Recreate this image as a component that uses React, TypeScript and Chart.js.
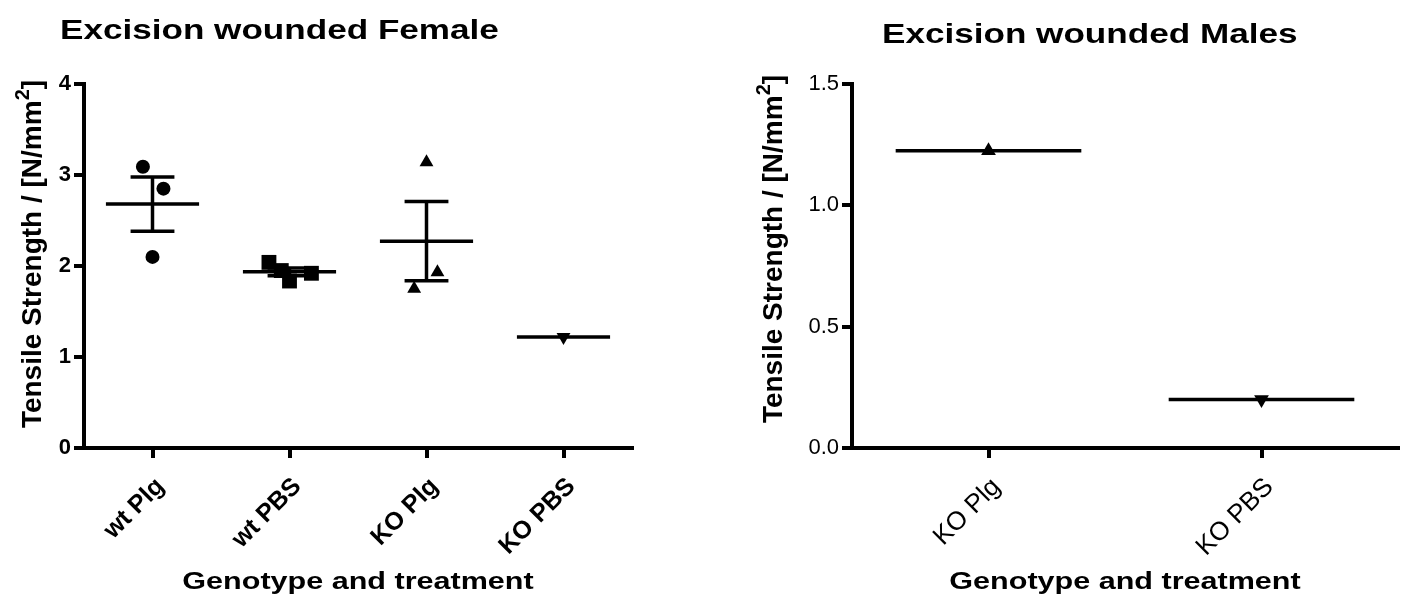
import React, { useEffect, useRef } from "react";
import { Chart, registerables } from "chart.js";

Chart.register(...registerables);

// ---------------- data ----------------
const femaleTitle = "Excision wounded Female";
const maleTitle = "Excision wounded Males";
const xAxisTitle = "Genotype and treatment";
const yAxisTitleMain = "Tensile Strength / [N/mm";
const yAxisTitleSup = "2";
const yAxisTitleEnd = "]";

const femaleCategories = ["wt Plg", "wt PBS", "KO Plg", "KO PBS"];
const femaleWtPlg = [3.09, 2.85, 2.1];
const femaleWtPbs = [2.04, 1.95, 1.835, 1.92];
const femaleKoPlg = [3.14, 1.93, 1.75];
const femaleKoPbs = [1.22];
// horizontal scatter of the individual points, in category units
const femaleWtPlgJitter = [-0.07, 0.08, 0.0];
const femaleWtPbsJitter = [-0.15, -0.06, 0.0, 0.16];
const femaleKoPlgJitter = [0.0, 0.08, -0.09];
const femaleKoPbsJitter = [0.0];
const femaleYTicks = [0, 1, 2, 3, 4];

const maleCategories = ["KO Plg", "KO PBS"];
const maleKoPlg = [1.225];
const maleKoPbs = [0.2];
const maleKoPlgJitter = [0.0];
const maleKoPbsJitter = [0.0];
const maleYTicks = [0, 0.5, 1.0, 1.5];

// ---------------- helpers ----------------
const FONT = "'Liberation Sans', Arial, Helvetica, sans-serif";
const W = 1407;
const H = 599;

function mean(v: number[]) {
  return v.reduce((a, b) => a + b, 0) / v.length;
}
function sem(v: number[]) {
  if (v.length < 2) return 0;
  const m = mean(v);
  const sd = Math.sqrt(v.reduce((a, b) => a + (b - m) * (b - m), 0) / (v.length - 1));
  return sd / Math.sqrt(v.length);
}

type Group = { values: number[]; jitter: number[]; style: string; rotation: number; radius: number };

function segment(x1: number, y1: number, x2: number, y2: number) {
  return {
    type: "scatter" as const,
    data: [
      { x: x1, y: y1 },
      { x: x2, y: y2 },
    ],
    showLine: true,
    borderColor: "#000",
    borderWidth: 3.5,
    pointRadius: 0,
    pointHoverRadius: 0,
    borderCapStyle: "butt" as const,
    clip: false as const,
  };
}

function buildDatasets(groups: Group[], halfMean: number, halfCap: number) {
  const ds: any[] = [];
  groups.forEach((g, i) => {
    const c = i + 1;
    const m = mean(g.values);
    ds.push(segment(c - halfMean, m, c + halfMean, m));
    if (g.values.length > 1) {
      const s = sem(g.values);
      ds.push(segment(c, m - s, c, m + s));
      ds.push(segment(c - halfCap, m + s, c + halfCap, m + s));
      ds.push(segment(c - halfCap, m - s, c + halfCap, m - s));
    }
    ds.push({
      type: "scatter",
      data: g.values.map((v, k) => ({ x: c + g.jitter[k], y: v })),
      pointStyle: g.style,
      rotation: g.rotation,
      pointRadius: g.radius,
      pointHoverRadius: g.radius,
      backgroundColor: "#000",
      borderColor: "#000",
      borderWidth: 0,
      clip: false,
    });
  });
  return ds;
}

type PanelCfg = {
  area: { left: number; right: number; top: number; bottom: number };
  categories: string[];
  groups: Group[];
  yTicks: number[];
  yDecimals: number;
  tickWeight: string;
  yTickSize: number;
  xTickSize: number;
  title: string;
  titleX: number;
  titleBaseline: number;
  titleSize: number;
  xTitleSize: number;
  xTitleBaseline: number;
  yTitleX: number;
  yTitleY: number;
  yTitleSize: number;
};

const TEXT_STRETCH = 1.3;

function textPlugin(cfg: PanelCfg) {
  return {
    id: "panelText",
    afterDraw(chart: any) {
      const ctx = chart.ctx as CanvasRenderingContext2D;
      ctx.save();
      ctx.fillStyle = "#000";
      ctx.textBaseline = "alphabetic";
      // panel title
      ctx.save();
      ctx.font = `bold ${cfg.titleSize}px ${FONT}`;
      ctx.textAlign = "left";
      ctx.translate(cfg.titleX, cfg.titleBaseline);
      ctx.scale(TEXT_STRETCH, 1);
      ctx.fillText(cfg.title, 0, 0);
      ctx.restore();
      // x axis title, centred on the plot area
      ctx.save();
      ctx.font = `bold ${cfg.xTitleSize}px ${FONT}`;
      ctx.textAlign = "center";
      const ca = chart.chartArea;
      ctx.translate((ca.left + ca.right) / 2, cfg.xTitleBaseline);
      ctx.scale(TEXT_STRETCH, 1);
      ctx.fillText(xAxisTitle, 0, 0);
      ctx.restore();
      // y axis title with superscript
      ctx.save();
      ctx.translate(cfg.yTitleX, cfg.yTitleY);
      ctx.rotate(-Math.PI / 2);
      const mainFont = `bold ${cfg.yTitleSize}px ${FONT}`;
      const supFont = `bold ${Math.round(cfg.yTitleSize * 0.7)}px ${FONT}`;
      ctx.font = mainFont;
      const w1 = ctx.measureText(yAxisTitleMain).width;
      const w3 = ctx.measureText(yAxisTitleEnd).width;
      ctx.font = supFont;
      const w2 = ctx.measureText(yAxisTitleSup).width;
      const total = w1 + w2 + w3;
      let x = -total / 2;
      ctx.textAlign = "left";
      const base = cfg.yTitleSize * 0.36;
      ctx.font = mainFont;
      ctx.fillText(yAxisTitleMain, x, base);
      x += w1;
      ctx.font = supFont;
      ctx.fillText(yAxisTitleSup, x, base - cfg.yTitleSize * 0.42);
      x += w2;
      ctx.font = mainFont;
      ctx.fillText(yAxisTitleEnd, x, base);
      ctx.restore();
      ctx.restore();
    },
  };
}

function makeChart(canvas: HTMLCanvasElement, cfg: PanelCfg) {
  const n = cfg.categories.length;
  const yMin = cfg.yTicks[0];
  const yMax = cfg.yTicks[cfg.yTicks.length - 1];
  const gridOpts = {
    display: true,
    drawOnChartArea: false,
    drawTicks: true,
    tickLength: 10,
    tickWidth: 4,
    tickColor: "#000",
    lineWidth: 4,
    color: "#000",
  };
  return new Chart(canvas, {
    type: "scatter",
    data: { datasets: buildDatasets(cfg.groups, 0.34, 0.16) },
    options: {
      responsive: false,
      animation: false,
      devicePixelRatio: 1,
      events: [],
      layout: {
        padding: { left: 0, top: cfg.area.top, right: W - cfg.area.right, bottom: 0 },
      },
      plugins: { legend: { display: false }, tooltip: { enabled: false }, title: { display: false } },
      scales: {
        x: {
          type: "linear",
          min: 0.5,
          max: n + 0.5,
          afterFit(scale: any) {
            scale.height = H - cfg.area.bottom;
          },
          afterBuildTicks(scale: any) {
            scale.ticks = cfg.categories.map((_, i) => ({ value: i + 1 }));
          },
          ticks: {
            autoSkip: false,
            maxRotation: 45,
            minRotation: 45,
            padding: 14,
            labelOffset: 8,
            color: "#000",
            font: { family: FONT, size: cfg.xTickSize, weight: cfg.tickWeight as any },
            callback: (v: any) => cfg.categories[Math.round(Number(v)) - 1] ?? "",
          },
          grid: gridOpts,
          border: { display: true, color: "#000", width: 4 },
        },
        y: {
          type: "linear",
          min: yMin,
          max: yMax,
          afterFit(scale: any) {
            scale.width = cfg.area.left;
          },
          afterBuildTicks(scale: any) {
            scale.ticks = cfg.yTicks.map((v) => ({ value: v }));
          },
          ticks: {
            padding: 3,
            color: "#000",
            font: { family: FONT, size: cfg.yTickSize, weight: cfg.tickWeight as any },
            callback: (v: any) => Number(v).toFixed(cfg.yDecimals),
          },
          grid: gridOpts,
          border: { display: true, color: "#000", width: 4 },
        },
      },
    },
    plugins: [textPlugin(cfg)],
  } as any);
}

const femaleCfg: PanelCfg = {
  area: { left: 84, right: 632, top: 84, bottom: 448 },
  categories: femaleCategories,
  groups: [
    { values: femaleWtPlg, jitter: femaleWtPlgJitter, style: "circle", rotation: 0, radius: 7 },
    { values: femaleWtPbs, jitter: femaleWtPbsJitter, style: "rect", rotation: 0, radius: 10.5 },
    { values: femaleKoPlg, jitter: femaleKoPlgJitter, style: "triangle", rotation: 0, radius: 8 },
    { values: femaleKoPbs, jitter: femaleKoPbsJitter, style: "triangle", rotation: 180, radius: 8 },
  ],
  yTicks: femaleYTicks,
  yDecimals: 0,
  tickWeight: "bold",
  yTickSize: 22,
  xTickSize: 25,
  title: femaleTitle,
  titleX: 60,
  titleBaseline: 39,
  titleSize: 27,
  xTitleSize: 23.5,
  xTitleBaseline: 589,
  yTitleX: 31,
  yTitleY: 254,
  yTitleSize: 28,
};

const maleCfg: PanelCfg = {
  area: { left: 852, right: 1398, top: 84, bottom: 448 },
  categories: maleCategories,
  groups: [
    { values: maleKoPlg, jitter: maleKoPlgJitter, style: "triangle", rotation: 0, radius: 8.5 },
    { values: maleKoPbs, jitter: maleKoPbsJitter, style: "triangle", rotation: 180, radius: 8.5 },
  ],
  yTicks: maleYTicks,
  yDecimals: 1,
  tickWeight: "normal",
  yTickSize: 22,
  xTickSize: 26,
  title: maleTitle,
  titleX: 882,
  titleBaseline: 43,
  titleSize: 27,
  xTitleSize: 23.5,
  xTitleBaseline: 589,
  yTitleX: 772,
  yTitleY: 249,
  yTitleSize: 28,
};

export default function App() {
  const leftRef = useRef<HTMLCanvasElement>(null);
  const rightRef = useRef<HTMLCanvasElement>(null);

  useEffect(() => {
    document.body.style.margin = "0";
    const charts: Chart[] = [];
    if (leftRef.current) charts.push(makeChart(leftRef.current, femaleCfg));
    if (rightRef.current) charts.push(makeChart(rightRef.current, maleCfg));
    return () => charts.forEach((c) => c.destroy());
  }, []);

  return (
    <div style={{ position: "relative", width: W, height: H, background: "#fff", overflow: "hidden" }}>
      <canvas ref={leftRef} width={W} height={H} style={{ position: "absolute", left: 0, top: 0 }} />
      <canvas ref={rightRef} width={W} height={H} style={{ position: "absolute", left: 0, top: 0 }} />
    </div>
  );
}
